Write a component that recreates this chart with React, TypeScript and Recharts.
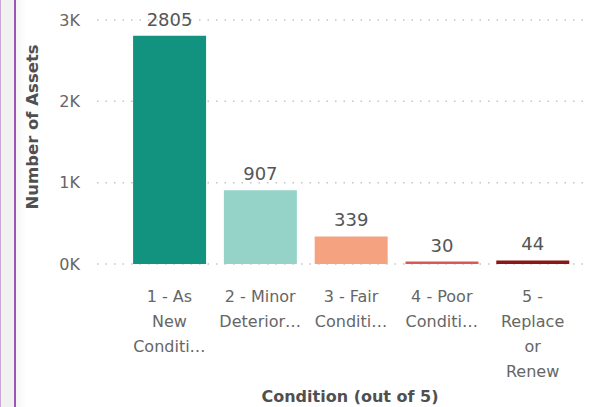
import React from "react";
import { BarChart, Bar, XAxis, YAxis, CartesianGrid, Cell, LabelList, Label } from "recharts";

const conditions = [
  "1 - As New Condition",
  "2 - Minor Deterioration",
  "3 - Fair Condition",
  "4 - Poor Condition",
  "5 - Replace or Renew",
];
const assetCounts = [2805, 907, 339, 30, 44];
const barColors = ["#12937f", "#95d3c9", "#f5a281", "#d85a55", "#8c1717"];
const tickLines = [
  ["1 - As", "New", "Conditi…"],
  ["2 - Minor", "Deterior…"],
  ["3 - Fair", "Conditi…"],
  ["4 - Poor", "Conditi…"],
  ["5 -", "Replace", "or", "Renew"],
];
const yTicks = [0, 1000, 2000, 3000];

const FONT = "'DejaVu Sans', sans-serif";
const TEXT = "#666666";
const TITLE = "#505050";

const data = conditions.map((name, i) => ({ name, count: assetCounts[i], idx: i }));

function WrappedTick(props: any) {
  const { x, y, index } = props;
  const lines = tickLines[index] || [];
  return (
    <text x={x} y={y} textAnchor="middle" fill={TEXT} fontSize={16} fontFamily={FONT}>
      {lines.map((l, i) => (
        <tspan key={i} x={x} y={y + 30 + i * 25}>
          {l}
        </tspan>
      ))}
    </text>
  );
}

export default function App() {
  return (
    <div style={{ position: "fixed", left: 0, top: 0, width: 598, height: 407, background: "#fff" }}>
      <div style={{ position: "absolute", left: 0, top: 0, width: 14, height: 407, background: "#f1f1f1", borderLeft: "1px solid #c9a6d6" }} />
      <div style={{ position: "absolute", left: 14, top: 0, width: 2, height: 407, background: "#9b55b5" }} />
      <div style={{ position: "absolute", left: 16, top: 0, width: 10, height: 407, background: "linear-gradient(to right, #f4f4f4, #ffffff)" }} />
      <BarChart
        width={598}
        height={407}
        data={data}
        margin={{ top: 20, right: 8, bottom: 0, left: 0 }}
        barCategoryGap="10%"
        style={{ position: "absolute", left: 0, top: 0 }}
      >
        <CartesianGrid vertical={false} stroke="#c4c4c4" strokeWidth={1.5} strokeDasharray="1.5 7" />
        <XAxis
          dataKey="name"
          height={143}
          axisLine={false}
          tickLine={false}
          interval={0}
          padding={{ left: 27, right: 12 }}
          tick={<WrappedTick />}
        >
          <Label
            value="Condition (out of 5)"
            content={() => (
              <text x={350} y={402} textAnchor="middle" fill={TITLE} fontSize={16} fontWeight={700} fontFamily={FONT}>
                Condition (out of 5)
              </text>
            )}
          />
        </XAxis>
        <YAxis
          width={97}
          domain={[0, 3000]}
          ticks={yTicks}
          axisLine={false}
          tickLine={false}
          tickMargin={11}
          tick={{ fill: TEXT, fontSize: 16, fontFamily: FONT }}
          tickFormatter={(v: number) => `${v / 1000}K`}
        >
          <Label
            value="Number of Assets"
            content={() => (
              <text
                x={38}
                y={127}
                transform="rotate(-90 38 127)"
                textAnchor="middle"
                fill={TITLE}
                fontSize={16.5}
                fontWeight={700}
                fontFamily={FONT}
              >
                Number of Assets
              </text>
            )}
          />
        </YAxis>
        <Bar dataKey="count" isAnimationActive={false}>
          {data.map((d) => (
            <Cell key={d.name} fill={barColors[d.idx]} />
          ))}
          <LabelList dataKey="count" position="top" offset={10} fill="#555555" fontSize={18} fontFamily={FONT} />
        </Bar>
      </BarChart>
    </div>
  );
}
